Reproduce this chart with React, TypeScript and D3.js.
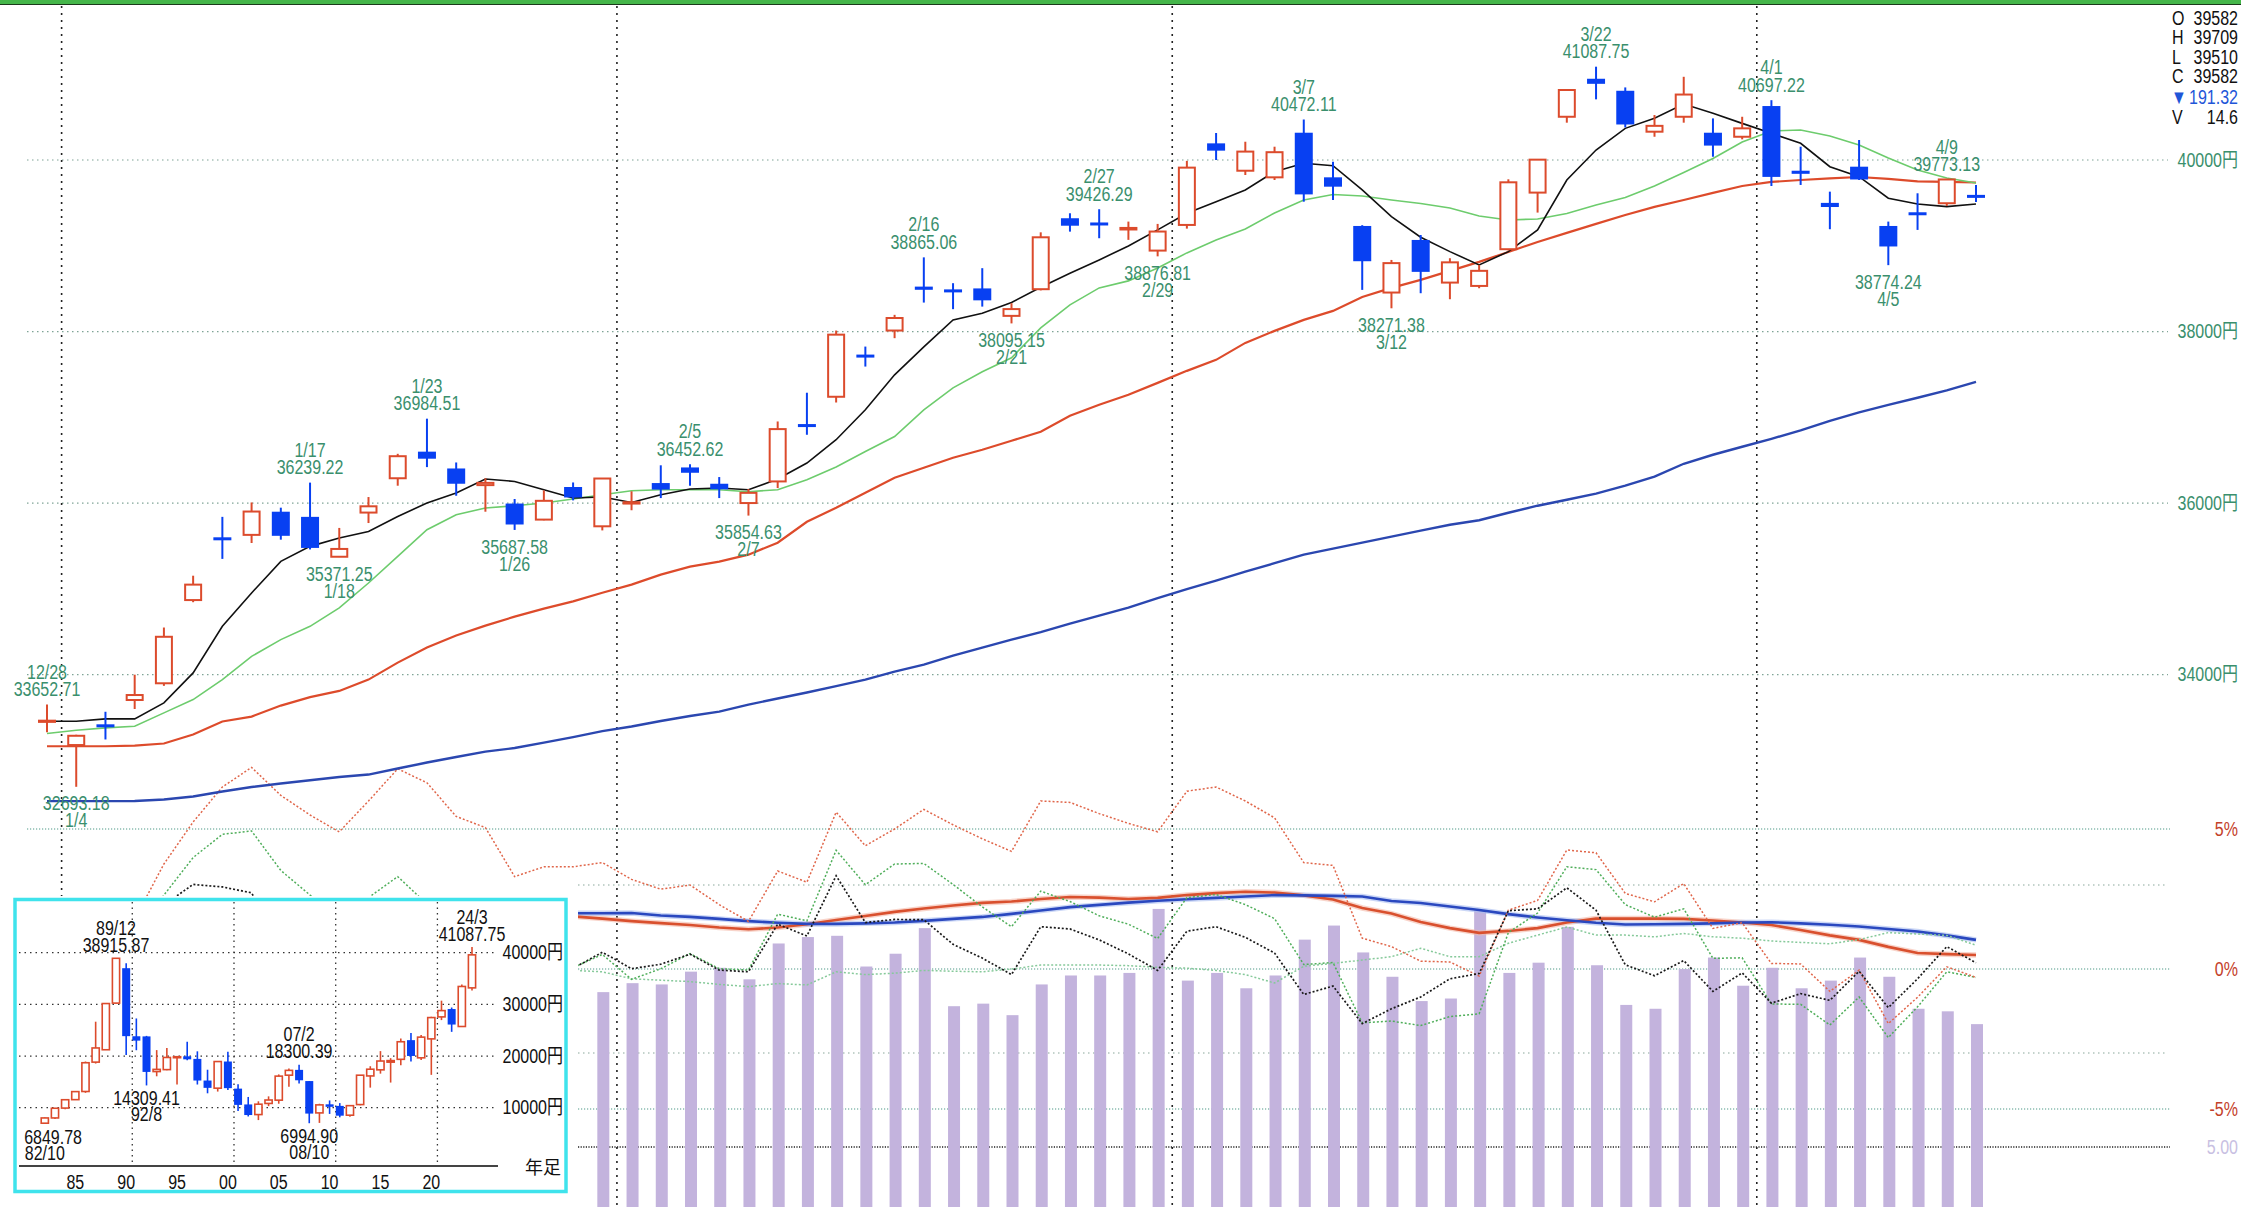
import * as d3 from "d3";

// daily candles, 12/28 .. 4/10
const dates = ["12/28","1/4","1/5","1/9","1/10","1/11","1/12","1/15","1/16","1/17","1/18","1/19","1/22","1/23","1/24","1/25","1/26","1/29","1/30","1/31","2/1","2/2","2/5","2/6","2/7","2/8","2/9","2/13","2/14","2/15","2/16","2/19","2/20","2/21","2/22","2/26","2/27","2/28","2/29","3/1","3/4","3/5","3/6","3/7","3/8","3/11","3/12","3/13","3/14","3/15","3/18","3/19","3/21","3/22","3/25","3/26","3/27","3/28","3/29","4/1","4/2","4/3","4/4","4/5","4/8","4/9","4/10"];
const open = [33450,33180,33410,33705,33900,34870,35590,35630,35900,35840,35375,35890,36290,36600,36404,36210,35995,35808,36188,35730,35995,36234,36416,36226,36001,36253,36910,37240,37720,38012,38524,38480,38503,38183,38494,39321,39260,39190,38944,39243,40194,39875,39798,40318,39798,39231,38455,39068,38571,38532,38960,39620,40504,40947,40807,40330,40504,40318,40271,40629,39875,39500,39922,39231,39379,39496,39581.81];
const high = [33652.71,33300,33568,34000,34550,35154,35840,36008,35947,36239.22,35711,36071,36575,36984.51,36474,36290,36048,36148,36241,36290,36138,36441,36452.62,36304,36164,36952,37287,38012,37825,38195,38865.06,38564,38739,38331,39157,39379,39426.29,39282,39255,39990,40315,40213,40155,40472.11,39980,39240,38835,39126,38855,38777,39775,40010,40823,41087.75,40846,40524,40970,40485,40504,40697.22,40155,39631,40233,39282,39612,39773.13,39709];
const low = [33330,32693.18,33245,33600,33870,34845,35350,35535,35574,35460,35371.25,35768,36203,36420,36086,35900,35687.58,35800,36032,35682,35917,36059,36203,36059,35854.63,36176,36797,37173,37592,37923,38338,38261,38291,38095.15,38480,39165,39088,39069,38876.81,39200,40000,39825,39767,39514,39534,38486,38271.38,38447,38377,38505,38945,39387,40435,40707,40380,40271,40435,40038,40241,39697,39709,39193,39767,38774.24,39185,39464,39510];
const close = [33464,33288,33377,33763,34442,35050,35577,35902,35619,35478,35466,35963,36547,36518,36226,36236,35751,36027,36066,36287,36011,36158,36354,36161,36120,36863,36897,37964,37703,38158,38487,38470,38364,38262,39099,39234,39240,39208,39166,39911,40109,40098,40091,39599,39689,38820,38798,38696,38807,38708,39740,40004,40816,40888,40414,40398,40763,40168,40369,39803,39839,39452,39773,38992,39347,39773.13,39581.81];

// moving averages
const maBlack = [33457,33457,33485,33485,33672,34021,34564,34953,35321,35496,35594,35670,35845,36001,36118,36281,36253,36156,36060,36071,36008,36098,36164,36176,36156,36281,36467,36739,37088,37496,37822,38136,38214,38338,38517,38680,38835,38998,39185,39379,39514,39651,39864,39962,39934,39651,39340,39100,38932,38777,38932,39185,39767,40116,40369,40486,40652,40544,40427,40311,40195,39922,39805,39554,39487,39456,39487];
const maGreen = [33314,33352,33380,33399,33555,33710,33943,34214,34409,34564,34778,35069,35379,35690,35865,35943,35970,36001,36048,36098,36144,36156,36156,36156,36133,36156,36273,36421,36602,36777,37088,37344,37531,37694,38043,38311,38509,38591,38742,38917,39068,39196,39383,39534,39598,39581,39534,39493,39441,39348,39301,39313,39377,39476,39563,39697,39854,40017,40210,40338,40349,40280,40175,40023,39884,39790,39732];
const maRed = [33166,33166,33166,33174,33198,33302,33454,33512,33640,33739,33811,33943,34141,34316,34456,34572,34677,34770,34855,34956,35050,35166,35259,35318,35399,35539,35783,35946,36121,36296,36412,36529,36622,36727,36832,37018,37146,37263,37402,37542,37670,37868,38008,38136,38241,38404,38509,38602,38707,38812,38928,39045,39150,39255,39359,39453,39534,39616,39697,39744,39767,39785,39802,39779,39750,39744,39738];
const maBlue = [32526,32526,32526,32528,32545,32580,32638,32691,32732,32770,32807,32836,32906,32976,33040,33104,33145,33209,33273,33343,33396,33460,33518,33570,33652,33722,33792,33867,33943,34036,34118,34223,34316,34409,34496,34595,34689,34782,34892,34997,35096,35201,35300,35399,35469,35539,35609,35679,35748,35801,35888,35970,36040,36110,36203,36308,36459,36564,36657,36750,36849,36960,37059,37146,37228,37315,37414];

// volume (only visible from 1/31)
const volStart = 19;
const volume = [17.1,17.8,17.7,18.7,19.0,18.1,20.9,21.4,21.5,19.1,20.1,22.1,16.0,16.2,15.3,17.7,18.4,18.4,18.6,23.6,18.0,18.6,17.4,18.4,21.2,22.3,20.2,18.3,16.4,16.6,23.5,18.6,19.4,22.2,19.2,16.1,15.8,18.9,19.8,17.6,19.0,17.4,18.0,19.8,18.3,15.8,15.6,14.6];

// deviation rates (%), dotted
const devRed = [0.9,0.37,0.64,1.78,3.75,5.25,6.5,7.2,6.2,5.5,4.9,6.0,7.15,6.65,5.45,5.05,3.3,3.65,3.65,3.8,3.2,2.85,3.0,2.3,1.7,3.5,3.1,5.6,4.4,5.0,5.7,5.15,4.65,4.2,6.0,5.95,5.55,5.2,4.9,6.35,6.5,6.0,5.4,3.8,3.7,1.1,0.8,0.28,0.25,-0.25,2.1,2.45,4.25,4.15,2.7,2.4,3.05,1.45,1.65,0.2,0.18,-0.8,-0.04,-1.95,-1.01,0.08,-0.3];
const devGreen = [0.45,-0.19,-0.01,1.09,2.64,3.98,4.81,4.93,3.52,2.64,1.98,2.55,3.3,2.32,1.01,0.82,-0.61,0.07,0.05,0.52,-0.37,0.01,0.55,0.01,-0.04,1.96,1.72,4.24,3.01,3.75,3.77,3.02,2.22,1.51,2.78,2.41,1.9,1.6,1.09,2.55,2.66,2.3,1.8,0.16,0.23,-1.92,-1.86,-2.02,-1.7,-1.6,1.3,2.0,3.65,3.55,2.3,1.85,2.15,0.38,0.4,-1.25,-1.26,-2.0,-1.0,-2.45,-1.35,-0.1,-0.3];
const devBlack = [0.02,-0.5,-0.32,0.83,2.29,3.02,2.93,2.72,0.84,-0.05,-0.36,0.82,1.96,1.44,0.3,-0.12,-1.38,-0.36,0.02,0.6,0.01,0.17,0.53,-0.04,-0.1,1.6,1.18,3.33,1.66,1.77,1.76,0.88,0.39,-0.2,1.51,1.43,1.04,0.54,-0.05,1.35,1.51,1.13,0.57,-0.91,-0.61,-1.95,-1.42,-1.0,-0.35,-0.16,2.08,2.15,2.9,2.1,0.15,-0.24,0.3,-0.8,-0.14,-1.22,-0.88,-1.12,-0.08,-1.38,-0.35,0.8,0.22];
const devLight = [0.2,0.1,0.1,0.3,0.6,0.9,1.1,1.2,1.0,0.8,0.6,0.5,0.6,0.6,0.4,0.3,0.1,0.0,-0.05,-0.1,-0.35,-0.4,-0.45,-0.55,-0.63,-0.52,-0.57,-0.1,-0.2,-0.15,-0.05,-0.08,-0.1,0.0,0.14,0.14,0.14,0.12,0.06,0.03,-0.05,-0.2,-0.5,0.1,0.2,0.32,0.44,0.74,0.44,0.44,0.92,1.21,1.5,1.21,1.21,1.15,1.27,1.15,1.1,1.0,0.95,0.9,1.05,1.3,1.25,1.2,0.85];

// solid lines of the lower panel (%), from 1/30
const subStart = 18;
const subBlue = [1.99,1.99,2.0,1.91,1.86,1.79,1.71,1.65,1.61,1.61,1.63,1.66,1.72,1.79,1.86,1.97,2.09,2.21,2.29,2.37,2.44,2.49,2.54,2.59,2.64,2.63,2.61,2.59,2.43,2.36,2.23,2.11,1.96,1.84,1.74,1.65,1.59,1.6,1.61,1.63,1.66,1.67,1.63,1.58,1.52,1.43,1.34,1.2,1.04];
const subRed = [1.88,1.8,1.71,1.64,1.57,1.48,1.42,1.48,1.6,1.75,1.89,2.04,2.16,2.27,2.36,2.41,2.5,2.57,2.55,2.5,2.54,2.64,2.71,2.76,2.73,2.63,2.48,2.18,1.98,1.68,1.46,1.29,1.36,1.46,1.66,1.8,1.8,1.8,1.79,1.73,1.66,1.57,1.39,1.2,1.04,0.79,0.57,0.53,0.5];

const highMarks = [0, 9, 13, 22, 30, 36, 43, 53, 59, 65];
const lowMarks = [1, 10, 16, 24, 33, 38, 46, 63];
const priceTicks = [34000, 36000, 38000, 40000];
const pctTicks = [5, 0, -5];
const pctGrid = [3, -3];

// yearly inset
const years = d3.range(1982, 2025);
const yrOpen = [7000,8017,9927,11558,13136,18820,21217,30243,37000,23827,23801,16994,17370,19684,19945,19446,15258,13779,18937,13691,10631,8669,10825,11458,16294,17322,15156,8991,10654,10352,8549,10604,16147,17326,18818,19364,23074,19655,23319,27575,29098,25717,33193];
const yrHigh = [8100,9900,11600,13200,18936,26646,30264,38915.87,37950,27270,23901,21148,21552,19868,22750,20910,17352,18934,20833,14556,12081,11238,12195,16445,17563,18300.39,15156,10767,11408,10891,10433,16320,18030,20953,19592,23382,24448,24091,27602,30714,29389,33853,41087.75];
const yrLow = [6849.78,7800,9700,11500,12880,18544,21217,30183,20222,21123,14309.41,16078,17242,14485,19161,14488,12787,13122,13423,9382,8303,7603,10299,10770,14045,14669,6994.90,7055,8797,8136,8238,10486,13885,16593,14864,18225,18949,19241,16358,26954,24682,25662,32693];
const yrClose = [8017,9894,11543,13113,18701,21564,30159,38915.87,23849,22984,16925,17417,19723,19868,19361,15259,13842,18934,13786,10543,8579,10677,11489,16111,17226,15308,8860,10546,10229,8455,10395,16291,17451,19034,19114,22765,20015,23657,27444,28792,26095,33464,39582];
const yrHighMarks = [{ year: 1989, tag: "89/12" }, { year: 2007, tag: "07/2" }, { year: 2024, tag: "24/3" }];
const yrLowMarks = [{ year: 1982, tag: "82/10" }, { year: 1992, tag: "92/8" }, { year: 2008, tag: "08/10" }];
const yrTicks = [10000, 20000, 30000, 40000];
const yrLabels = [1985, 1990, 1995, 2000, 2005, 2010, 2015, 2020];
const yrGrid = [1990, 2000, 2010, 2020];

const W = 2241, H = 1207;
const RED = "#dc4b2c", BLUE = "#0840f2", TAG = "#3a8f6d", PCT = "#c4412a";
const FONT = "'Liberation Sans','Noto Sans CJK JP',Arial,sans-serif";

function Txt({ x, y, children, anchor = "middle", fill = "#222", size = 20, sx = 0.8 }: any) {
  return (
    <text transform={`translate(${x},${y}) scale(${sx},1)`} textAnchor={anchor}
      dominantBaseline="central" fontSize={size} fill={fill}>{children}</text>
  );
}

export default function App() {
  const x = d3.scaleLinear().domain([0, dates.length - 1]).range([47, 1976]);
  const y = d3.scaleLinear().domain([34000, 40000]).range([674.7, 160]);
  const yPct = d3.scaleLinear().domain([-5, 5]).range([1109, 829]);
  const yVol = d3.scaleLinear().domain([0, 5]).range([1211, 1147]);
  const xYr = d3.scaleLinear().domain([1982, 2024]).range([44.8, 472]);
  const yYr = d3.scaleLinear().domain([10000, 40000]).range([1107.7, 952.7]);

  const path = (arr: number[], ys: any, off = 0) =>
    d3.line<number>().x((_, i) => x(i + off)).y(d => ys(d))(arr) || "";

  const monthStarts = dates.map((d, i) => i).filter(i => i > 0 && dates[i].split("/")[0] !== dates[i - 1].split("/")[0]);
  const bw = 18;
  const last = dates.length - 1;

  const isUp = (i: number) => close[i] > open[i] || (close[i] === open[i] && i > 0 && close[i] >= close[i - 1]);

  return (
    <svg width={W} height={H} style={{ position: "absolute", left: 0, top: 0, background: "#fff" }} fontFamily={FONT}>
      <rect x={0} y={0} width={W} height={H} fill="#fff" />
      {/* top bar */}
      <rect x={0} y={0} width={W} height={4} fill="#45b64a" />
      <line x1={0} x2={W} y1={4.5} y2={4.5} stroke="#1b3a1b" strokeWidth={1} />

      {/* price grid */}
      {priceTicks.map(t => (
        <line key={t} x1={27} x2={2168} y1={y(t)} y2={y(t)} stroke="#7fa496" strokeWidth={1.2} strokeDasharray="1.5 3.5" />
      ))}
      {/* lower panel grid */}
      <line x1={27} x2={2170} y1={yPct(5)} y2={yPct(5)} stroke="#4e9a88" strokeWidth={1.2} strokeDasharray="1.2 1.8" />
      {pctGrid.map(t => (
        <line key={t} x1={578} x2={2168} y1={yPct(t)} y2={yPct(t)} stroke="#8aa79c" strokeWidth={1.2} strokeDasharray="1.5 3.5" />
      ))}
      {[0, -5].map(t => (
        <line key={t} x1={578} x2={2170} y1={yPct(t)} y2={yPct(t)} stroke="#4e9a88" strokeWidth={1.2} strokeDasharray="1.2 1.8" />
      ))}
      <line x1={578} x2={2170} y1={yVol(5)} y2={yVol(5)} stroke="#222" strokeWidth={1.3} strokeDasharray="1.2 1.4" />
      {/* month separators */}
      {monthStarts.map(i => (
        <line key={i} x1={x(i - 0.5)} x2={x(i - 0.5)} y1={6} y2={H} stroke="#222" strokeWidth={1.6} strokeDasharray="2 5" />
      ))}

      {/* volume */}
      {volume.map((v, k) => (
        <rect key={k} x={x(k + volStart) + 1 - 6} y={yVol(v)} width={12} height={H - yVol(v) + 5} fill="#c3b3dd" />
      ))}
      {/* lower solid lines, with their soft halo */}
      <path d={path(subRed, yPct, subStart)} fill="none" stroke="#f3b7a6" strokeWidth={5.5} opacity={0.6} />
      <path d={path(subBlue, yPct, subStart)} fill="none" stroke="#a9bdf0" strokeWidth={5.5} opacity={0.6} />
      <path d={path(subRed, yPct, subStart)} fill="none" stroke="#d9502e" strokeWidth={2.6} />
      <path d={path(subBlue, yPct, subStart)} fill="none" stroke="#2a48bf" strokeWidth={2.6} />
      {/* deviation dotted lines */}
      <path d={path(devLight, yPct)} fill="none" stroke="#86c99a" strokeWidth={1.5} strokeDasharray="2 2" />
      <path d={path(devGreen, yPct)} fill="none" stroke="#4fae5a" strokeWidth={1.5} strokeDasharray="2 2" />
      <path d={path(devRed, yPct)} fill="none" stroke="#e0664a" strokeWidth={1.5} strokeDasharray="2 2" />
      <path d={path(devBlack, yPct)} fill="none" stroke="#1a1a1a" strokeWidth={1.7} strokeDasharray="2 2" />

      {/* moving averages */}
      <path d={path(maBlue, y)} fill="none" stroke="#2b47b0" strokeWidth={2.4} />
      <path d={path(maRed, y)} fill="none" stroke="#dd4b2b" strokeWidth={2.2} />
      <path d={path(maGreen, y)} fill="none" stroke="#6dcc6d" strokeWidth={1.6} />
      <path d={path(maBlack, y)} fill="none" stroke="#111" strokeWidth={1.6} />

      {/* candles */}
      {dates.map((d, i) => {
        const up = isUp(i);
        const c = up ? RED : BLUE;
        const top = y(Math.max(open[i], close[i]));
        const bot = y(Math.min(open[i], close[i]));
        const h = Math.max(bot - top, up ? 1 : 3);
        return (
          <g key={d}>
            <line x1={x(i)} x2={x(i)} y1={y(high[i])} y2={y(low[i])} stroke={c} strokeWidth={2} />
            {up ? (
              <rect x={x(i) - bw / 2 + 1} y={top} width={bw - 2} height={h} fill="#fff" stroke={c} strokeWidth={2} />
            ) : (
              <rect x={x(i) - bw / 2} y={top - (h > bot - top ? 1 : 0)} width={bw} height={h} fill={c} />
            )}
          </g>
        );
      })}

      {/* high / low tags */}
      {highMarks.map(i => (
        <g key={"h" + i}>
          <Txt x={x(i)} y={y(high[i]) - 32.5} fill={TAG}>{dates[i]}</Txt>
          <Txt x={x(i)} y={y(high[i]) - 15} fill={TAG}>{high[i].toFixed(2)}</Txt>
        </g>
      ))}
      {lowMarks.map(i => (
        <g key={"l" + i}>
          <Txt x={x(i)} y={y(low[i]) + 17} fill={TAG}>{low[i].toFixed(2)}</Txt>
          <Txt x={x(i)} y={y(low[i]) + 34} fill={TAG}>{dates[i]}</Txt>
        </g>
      ))}

      {/* right axis */}
      {priceTicks.map(t => (
        <Txt key={t} x={2238} y={y(t)} anchor="end" fill={TAG}>{`${t}円`}</Txt>
      ))}
      {pctTicks.map(t => (
        <Txt key={t} x={2238} y={yPct(t)} anchor="end" fill={PCT}>{`${t}%`}</Txt>
      ))}
      <Txt x={2238} y={yVol(5)} anchor="end" fill="#c8c0e2">{(5).toFixed(2)}</Txt>

      {/* OHLC box */}
      {[["O", open], ["H", high], ["L", low], ["C", close]].map(([k, arr]: any, r) => (
        <g key={k}>
          <Txt x={2172} y={18 + r * 19.6} anchor="start" fill="#111">{k}</Txt>
          <Txt x={2238} y={18 + r * 19.6} anchor="end" fill="#111">{Math.round(arr[last])}</Txt>
        </g>
      ))}
      <Txt x={2171} y={97} anchor="start" fill="#1f56d8">▼</Txt>
      <Txt x={2238} y={97} anchor="end" fill="#1f56d8">{(close[last - 1] - close[last]).toFixed(2)}</Txt>
      <Txt x={2172} y={117} anchor="start" fill="#111">V</Txt>
      <Txt x={2238} y={117} anchor="end" fill="#111">{volume[volume.length - 1].toFixed(1)}</Txt>

      {/* mask under the inset */}
      <rect x={0} y={896} width={578} height={H - 896} fill="#fff" />

      {/* yearly inset */}
      <rect x={15} y={899.5} width={551} height={292} fill="#fff" stroke="#3fe3ec" strokeWidth={3.5} />
      {yrTicks.map(t => (
        <g key={t}>
          <line x1={19} x2={497} y1={yYr(t)} y2={yYr(t)} stroke="#333" strokeWidth={1.3} strokeDasharray="1.5 4" />
          <Txt x={563} y={yYr(t)} anchor="end" fill="#111">{`${t}円`}</Txt>
        </g>
      ))}
      {yrGrid.map(t => (
        <line key={t} x1={xYr(t + 0.6)} x2={xYr(t + 0.6)} y1={902} y2={1166} stroke="#333" strokeWidth={1.3} strokeDasharray="1.5 4" />
      ))}
      <line x1={19} x2={498} y1={1166} y2={1166} stroke="#444" strokeWidth={2} />
      {yrLabels.map(t => (
        <Txt key={t} x={xYr(t)} y={1182} fill="#111">{String(t).slice(2)}</Txt>
      ))}
      <text x={543} y={1168} textAnchor="middle" dominantBaseline="central" fontSize={18} fill="#111">年足</text>
      {years.map((yr, k) => {
        const up = yrClose[k] >= yrOpen[k];
        const c = up ? RED : BLUE;
        const top = yYr(Math.max(yrOpen[k], yrClose[k]));
        const bot = yYr(Math.min(yrOpen[k], yrClose[k]));
        return (
          <g key={yr}>
            <line x1={xYr(yr)} x2={xYr(yr)} y1={yYr(yrHigh[k])} y2={yYr(yrLow[k])} stroke={c} strokeWidth={1.6} />
            {up ? (
              <rect x={xYr(yr) - 3.6} y={top} width={7.2} height={Math.max(bot - top, 1)} fill="#fff" stroke={c} strokeWidth={1.6} />
            ) : (
              <rect x={xYr(yr) - 4} y={top} width={8} height={Math.max(bot - top, 2.5)} fill={c} />
            )}
          </g>
        );
      })}
      {yrHighMarks.map(m => {
        const k = m.year - 1982;
        return (
          <g key={m.tag}>
            <Txt x={xYr(m.year)} y={yYr(yrHigh[k]) - 30} fill="#111">{m.tag}</Txt>
            <Txt x={xYr(m.year)} y={yYr(yrHigh[k]) - 13} fill="#111">{yrHigh[k].toFixed(2)}</Txt>
          </g>
        );
      })}
      {yrLowMarks.map(m => {
        const k = m.year - 1982;
        const v = yrLow[k].toFixed(2);
        const cx = Math.max(xYr(m.year), 23 + v.length * 4.3);
        const cx2 = Math.max(xYr(m.year), 23 + m.tag.length * 4.3);
        return (
          <g key={m.tag}>
            <Txt x={cx} y={yYr(yrLow[k]) + 13} fill="#111">{v}</Txt>
            <Txt x={cx2} y={yYr(yrLow[k]) + 29} fill="#111">{m.tag}</Txt>
          </g>
        );
      })}
    </svg>
  );
}
